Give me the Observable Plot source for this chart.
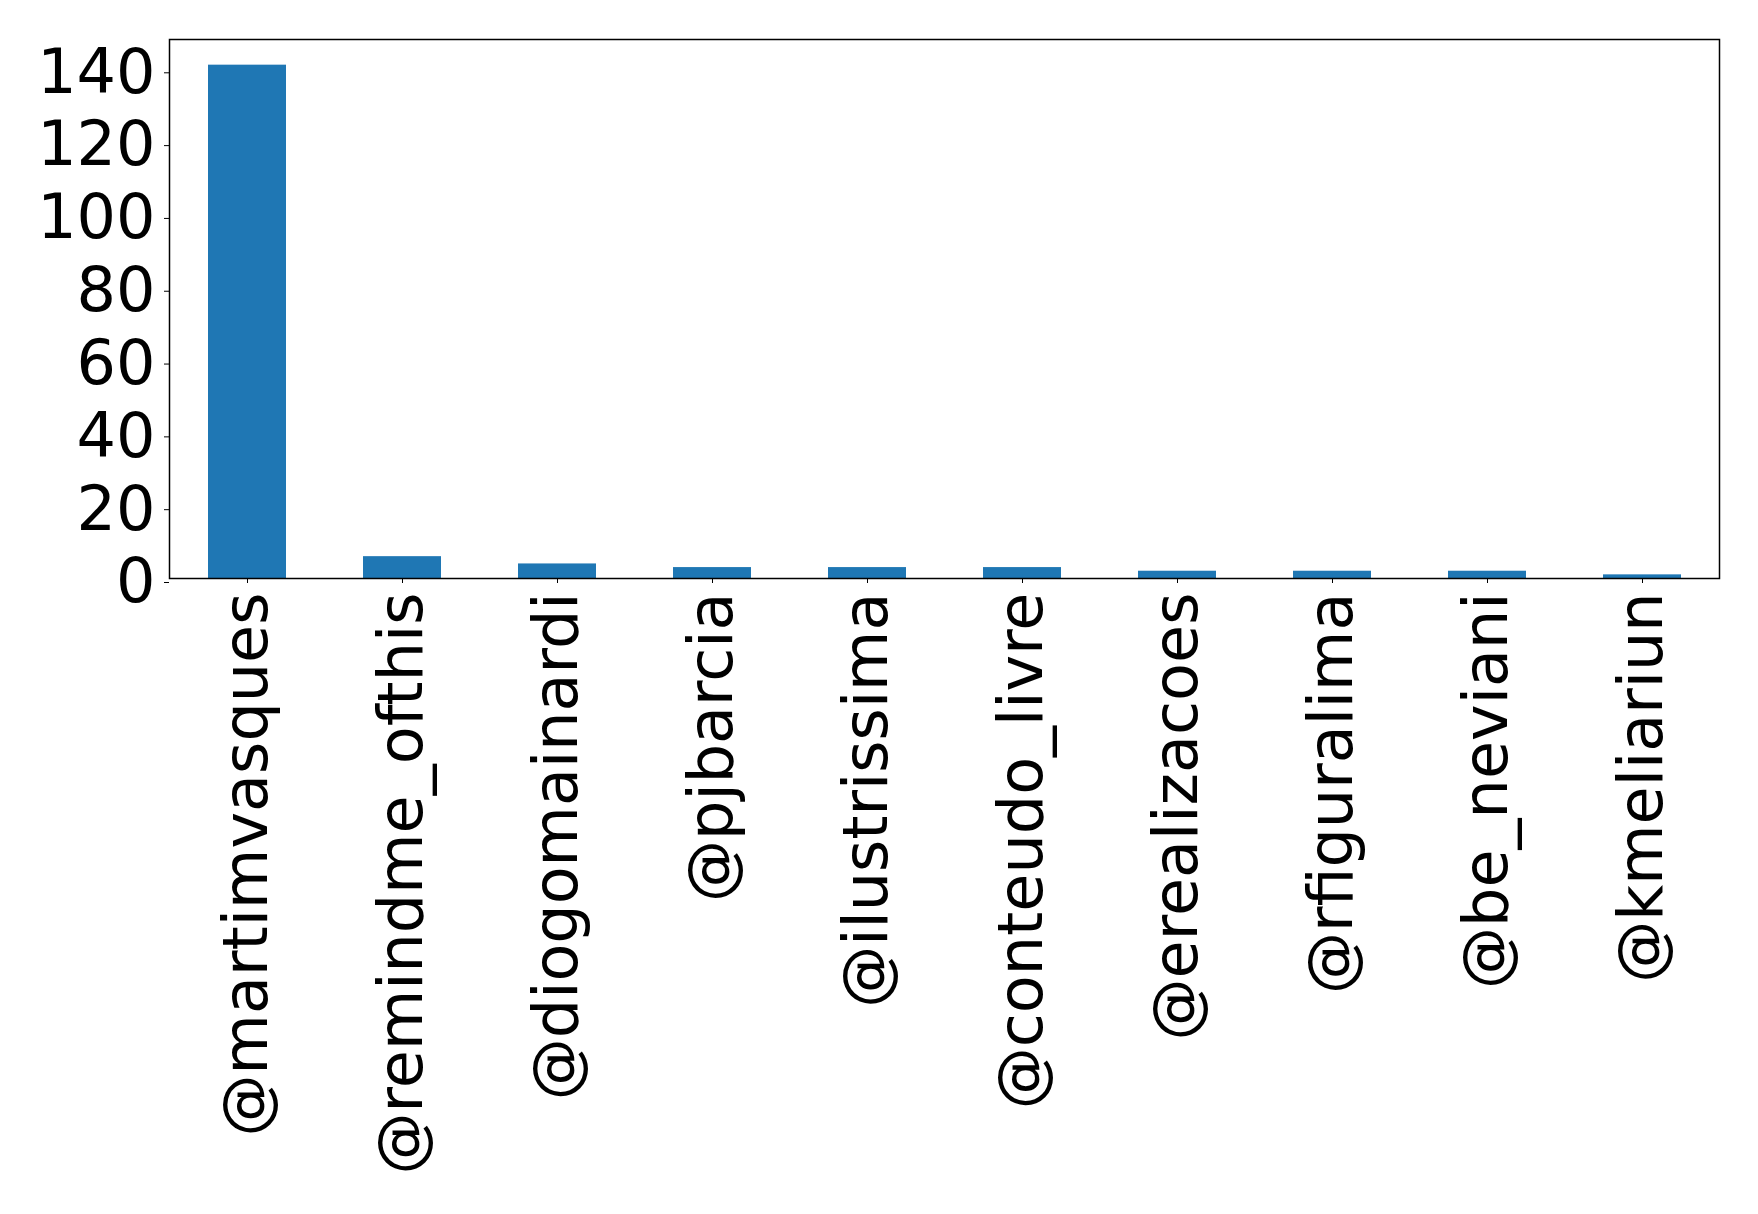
<!DOCTYPE html>
<html><head><meta charset="utf-8">
<script src="https://cdn.jsdelivr.net/npm/d3@7"></script>
<script src="https://cdn.jsdelivr.net/npm/@observablehq/plot@0.6"></script>
<style>body{margin:0;background:#fff}</style>
</head><body><div id="chart"></div>
<script>
const users = ["@martimvasques","@remindme_ofthis","@diogomainardi","@pjbarcia","@ilustrissima","@conteudo_livre","@erealizacoes","@rfiguralima","@be_neviani","@kmeliariun"];
const counts = [141, 6, 4, 3, 3, 3, 2, 2, 2, 1];
const yTicks = [0, 20, 40, 60, 80, 100, 120, 140];
const data = users.map((u, i) => ({user: u, count: counts[i]}));
const chart = Plot.plot({
  width: 1758, height: 1214,
  marginLeft: 169, marginTop: 39, marginRight: 39, marginBottom: 636,
  style: {fontFamily: "DejaVu Sans", fontSize: "62px", background: "#fff", color: "#000"},
  x: {domain: users, paddingInner: 0.5, paddingOuter: 0.25, label: null},
  y: {domain: [0, 148.05], label: null},
  marks: [
    Plot.barY(data, {x: "user", y: "count", fill: "#1f77b4"}),
    Plot.frame({stroke: "#000", strokeWidth: 1.5}),
    Plot.axisY({ticks: yTicks, tickSize: 5, tickPadding: 9, fontSize: 62, dy: 4, label: null}),
    Plot.axisX({tickSize: 5, tickRotate: -90, tickPadding: 9, fontSize: 62, label: null})
  ]
});
document.getElementById("chart").append(chart);
</script>
</body></html>
